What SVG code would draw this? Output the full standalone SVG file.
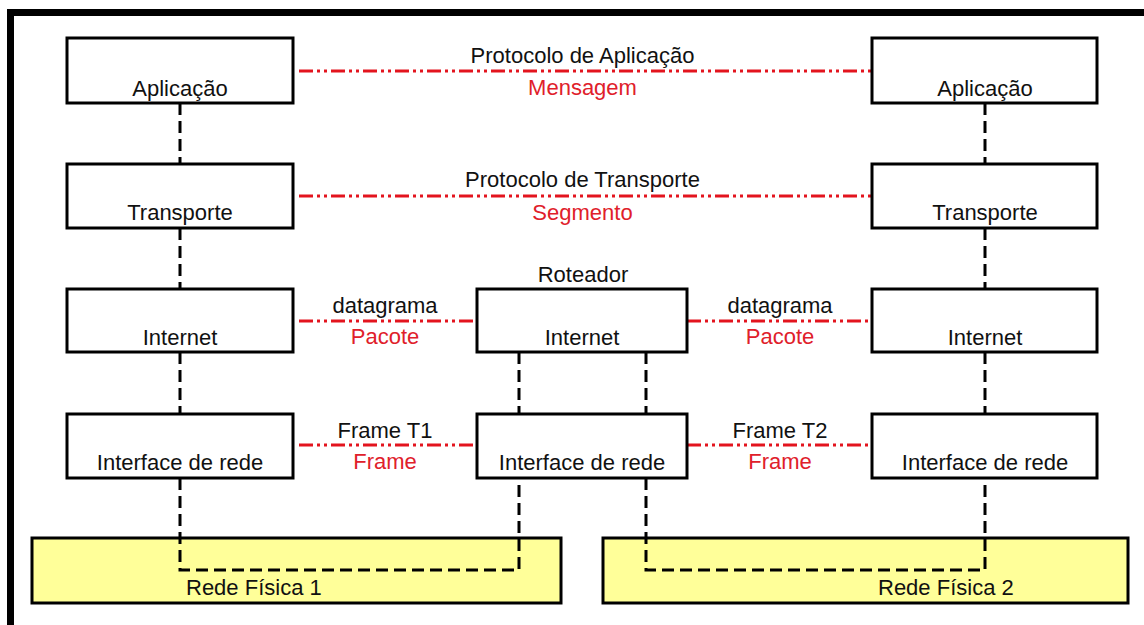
<svg xmlns="http://www.w3.org/2000/svg" width="1144" height="625" viewBox="0 0 1144 625">
<style>
.box{fill:#ffffff;stroke:#000;stroke-width:3}
.net{fill:#ffff99;stroke:#000;stroke-width:3}
.t{font-family:"Liberation Sans",Arial,sans-serif;font-size:22px;fill:#111;text-anchor:middle}
.r{fill:#e0202a}
.dash{fill:none;stroke:#000;stroke-width:3;stroke-dasharray:12 6}
.proto{fill:none;stroke:#e3141e;stroke-width:3;stroke-dasharray:14 4 3 4 3 4}
</style>
<rect x="0" y="0" width="1144" height="625" fill="#ffffff"/>
<path d="M10.5 625 V12.5 H1144" fill="none" stroke="#000" stroke-width="7"/>

<g id="net1">
<rect class="net" x="32" y="538" width="529" height="65"/>
<text class="t" x="186" y="595" style="text-anchor:start">Rede Física 1</text>
</g>
<g id="net2">
<rect class="net" x="603" y="538" width="525" height="65"/>
<text class="t" x="878" y="595" style="text-anchor:start">Rede Física 2</text>
</g>

<g id="connectors">
<line class="dash" x1="180" y1="103" x2="180" y2="164"/>
<line class="dash" x1="180" y1="228" x2="180" y2="289"/>
<line class="dash" x1="180" y1="352" x2="180" y2="414"/>
<path class="dash" d="M180 478 V570 H519 V478"/>
<line class="dash" x1="519" y1="352" x2="519" y2="414"/>
<line class="dash" x1="646" y1="352" x2="646" y2="414"/>
<path class="dash" d="M646 478 V570 H985 V478"/>
<line class="dash" x1="985" y1="103" x2="985" y2="164"/>
<line class="dash" x1="985" y1="228" x2="985" y2="289"/>
<line class="dash" x1="985" y1="352" x2="985" y2="414"/>
<line class="proto" x1="299" y1="71" x2="872" y2="71"/>
<line class="proto" x1="299" y1="196" x2="872" y2="196"/>
<line class="proto" x1="299" y1="321" x2="477" y2="321"/>
<line class="proto" x1="687" y1="321" x2="872" y2="321"/>
<line class="proto" x1="299" y1="445" x2="477" y2="445"/>
<line class="proto" x1="687" y1="445" x2="872" y2="445"/>
<text class="t" x="582.5" y="63">Protocolo de Aplicação</text>
<text class="t r" x="582.5" y="95">Mensagem</text>
<text class="t" x="582.5" y="187">Protocolo de Transporte</text>
<text class="t r" x="582.5" y="220">Segmento</text>
<text class="t" x="385" y="313">datagrama</text>
<text class="t r" x="385" y="344">Pacote</text>
<text class="t" x="780" y="313">datagrama</text>
<text class="t r" x="780" y="344">Pacote</text>
<text class="t" x="385" y="438">Frame T1</text>
<text class="t r" x="385" y="469">Frame</text>
<text class="t" x="780" y="438">Frame T2</text>
<text class="t r" x="780" y="469">Frame</text>
</g>

<g id="app1"><rect class="box" x="67" y="38" width="226" height="65"/><text class="t" x="180" y="96">Aplicação</text></g>
<g id="trans1"><rect class="box" x="67" y="164" width="226" height="64"/><text class="t" x="180" y="220">Transporte</text></g>
<g id="inet1"><rect class="box" x="67" y="289" width="226" height="63"/><text class="t" x="180" y="345">Internet</text></g>
<g id="iface1"><rect class="box" x="67" y="414" width="226" height="64"/><text class="t" x="180" y="470">Interface de rede</text></g>

<g id="router">
<text class="t" x="583" y="282">Roteador</text>
</g>
<g id="inet-r"><rect class="box" x="477" y="289" width="210" height="63"/><text class="t" x="582" y="345">Internet</text></g>
<g id="iface-r"><rect class="box" x="477" y="414" width="210" height="64"/><text class="t" x="582" y="470">Interface de rede</text></g>

<g id="app2"><rect class="box" x="872" y="38" width="225" height="65"/><text class="t" x="985" y="96">Aplicação</text></g>
<g id="trans2"><rect class="box" x="872" y="164" width="225" height="64"/><text class="t" x="985" y="220">Transporte</text></g>
<g id="inet2"><rect class="box" x="872" y="289" width="225" height="63"/><text class="t" x="985" y="345">Internet</text></g>
<g id="iface2"><rect class="box" x="872" y="414" width="225" height="64"/><text class="t" x="985" y="470">Interface de rede</text></g>
</svg>
